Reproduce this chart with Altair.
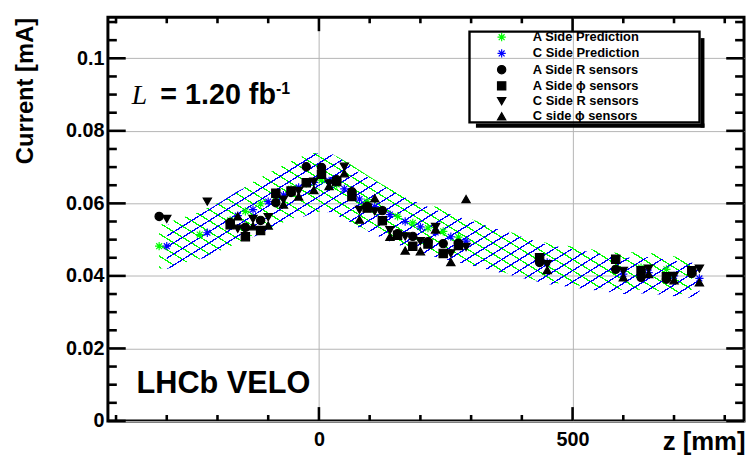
import math
import altair as alt
import pandas as pd

# ---------------- data ----------------
z_A = [-315, -235, -175, -145, -115, -85, -55, -25, 5, 35, 65, 95, 125, 155, 185, 215, 245, 275, 435, 585, 635, 685, 735]
pred_A = [0.0482, 0.0514, 0.0553, 0.0578, 0.0599, 0.0620, 0.0640, 0.0655, 0.0664, 0.0652, 0.0630, 0.0605, 0.0582,
          0.0564, 0.0546, 0.0532, 0.0523, 0.0507, 0.0445, 0.0420, 0.0423, 0.0418, 0.0405]
up_A = [0.0540, 0.0576, 0.0619, 0.0647, 0.0671, 0.0694, 0.0717, 0.0734, 0.0744, 0.0730, 0.0706, 0.0678, 0.0652,
        0.0632, 0.0612, 0.0596, 0.0586, 0.0568, 0.0494, 0.0464, 0.0466, 0.0458, 0.0444]
lo_A = [0.0419, 0.0447, 0.0481, 0.0503, 0.0521, 0.0539, 0.0557, 0.0570, 0.0578, 0.0567, 0.0548, 0.0526, 0.0506,
        0.0491, 0.0475, 0.0463, 0.0455, 0.0441, 0.0385, 0.0362, 0.0362, 0.0356, 0.0346]

z_C = [-300, -220, -160, -130, -100, -70, -40, -10, 20, 50, 80, 110, 140, 170, 200, 230, 260, 290, 450, 600, 650, 700, 750]
pred_C = [0.0482, 0.0519, 0.0566, 0.0583, 0.0605, 0.0623, 0.0644, 0.0658, 0.0662, 0.0640, 0.0612, 0.0591, 0.0569,
          0.0550, 0.0535, 0.0520, 0.0508, 0.0496, 0.0437, 0.0405, 0.0409, 0.0400, 0.0393]
up_C = [0.0540, 0.0581, 0.0634, 0.0653, 0.0678, 0.0698, 0.0721, 0.0737, 0.0741, 0.0717, 0.0685, 0.0662, 0.0637,
        0.0616, 0.0599, 0.0582, 0.0569, 0.0556, 0.0486, 0.0450, 0.0452, 0.0442, 0.0434]
lo_C = [0.0419, 0.0452, 0.0492, 0.0507, 0.0526, 0.0542, 0.0560, 0.0572, 0.0576, 0.0557, 0.0532, 0.0514, 0.0495,
        0.0479, 0.0465, 0.0452, 0.0442, 0.0432, 0.0378, 0.0350, 0.0352, 0.0344, 0.0338]

z_AR = [-315, -175, -145, -115, -85, -55, -25, 5, 35, 65, 95, 125, 155, 185, 215, 245, 275, 435, 585, 635, 685, 735]
cur_AR = [0.0564, 0.0547, 0.0534, 0.0553, 0.0602, 0.0630, 0.0701, 0.0699, 0.0665, 0.0632, 0.0592, 0.0580, 0.0516,
          0.0509, 0.0494, 0.0489, 0.0490, 0.0437, 0.0418, 0.0396, 0.0391, 0.0407]

z_AP = [-175, -145, -115, -85, -55, -25, 5, 35, 65, 95, 125, 155, 185, 215, 245, 275, 435, 585, 635, 685, 735]
cur_AP = [0.0541, 0.0508, 0.0525, 0.0628, 0.0634, 0.0657, 0.0680, 0.0660, 0.0619, 0.0587, 0.0552, 0.0512, 0.0482,
          0.0488, 0.0462, 0.0484, 0.0450, 0.0446, 0.0414, 0.0398, 0.0414]

z_CR = [-300, -220, -160, -130, -100, -70, -40, -10, 20, 50, 80, 110, 140, 170, 200, 230, 260, 290, 450, 600, 650, 700, 750]
cur_CR = [0.0557, 0.0605, 0.0530, 0.0557, 0.0562, 0.0610, 0.0634, 0.0660, 0.0655, 0.0701, 0.0582, 0.0578, 0.0526,
          0.0509, 0.0496, 0.0535, 0.0462, 0.0480, 0.0432, 0.0414, 0.0420, 0.0400, 0.0420]

z_CP = [-160, -130, -100, -70, -40, -10, 20, 50, 80, 110, 140, 170, 200, 230, 260, 290, 450, 600, 650, 700, 750]
cur_CP = [0.0564, 0.0537, 0.0539, 0.0597, 0.0619, 0.0637, 0.0648, 0.0683, 0.0555, 0.0614, 0.0508, 0.0470, 0.0468,
          0.0528, 0.0438, 0.0612, 0.0416, 0.0396, 0.0405, 0.0388, 0.0382]

series_names = ["A Side Prediction", "C Side Prediction", "A Side R sensors",
                "A Side \u03d5 sensors", "C Side R sensors", "C side \u03d5 sensors"]

xtick_major = [0, 500]
xtick_minor = [-400, -300, -200, -100, 100, 200, 300, 400, 600, 700, 800]
ytick_major = [0, 0.02, 0.04, 0.06, 0.08, 0.1]
ytick_minor = [0.005, 0.01, 0.015, 0.025, 0.03, 0.035, 0.045, 0.05, 0.055, 0.065, 0.07, 0.075,
               0.085, 0.09, 0.095, 0.105, 0.11]

# ---------------- layout / style ----------------
W, H = 643, 408
XDOM = [-416, 838]
YDOM = [0, 0.1113]
FONT = "Liberation Sans"
GREEN = "#00ff00"
BLUE = "#0000ff"
STAR = "M0,-1L0,1M-1,0L1,0M-0.71,-0.71L0.71,0.71M-0.71,0.71L0.71,-0.71"

xs = alt.Scale(domain=XDOM, nice=False, zero=False)
ys = alt.Scale(domain=YDOM, nice=False, zero=False)


def px(z):
    return (z - XDOM[0]) / (XDOM[1] - XDOM[0]) * W


def py(v):
    return H - v / YDOM[1] * H


def hatch(color, direction, zs, lo, up, angle=32, spacing=9.5, lw=1.3):
    bw = px(max(zs)) - px(min(zs))
    bh = py(min(lo)) - py(max(up))
    s = math.tan(math.radians(angle))
    gx = s * bw / bh
    grad = math.hypot(gx / bw, 1 / bh) / (gx * gx + 1)
    per = 1 / grad
    w = lw / per
    clear = "rgba(255,255,255,0)"
    stops = []
    k = 0
    while True:
        a = (k + 0.5) * spacing / per
        if a + w >= 1:
            break
        stops += [alt.GradientStop(offset=a, color=clear), alt.GradientStop(offset=a, color=color),
                  alt.GradientStop(offset=a + w, color=color), alt.GradientStop(offset=a + w, color=clear)]
        k += 1
    if direction == "/":
        x1, y1, x2, y2 = 0, 0, gx, 1
    else:
        x1, y1, x2, y2 = 0, 1, gx, 0
    return alt.LinearGradient(gradient="linear", stops=stops, x1=x1, y1=y1, x2=x2, y2=y2)


band_A = pd.DataFrame({"z": z_A, "lo": lo_A, "up": up_A})
band_C = pd.DataFrame({"z": z_C, "lo": lo_C, "up": up_C})

rows = []
for name, zz, vv in [(series_names[0], z_A, pred_A), (series_names[1], z_C, pred_C),
                     (series_names[2], z_AR, cur_AR), (series_names[3], z_AP, cur_AP),
                     (series_names[4], z_CR, cur_CR), (series_names[5], z_CP, cur_CP)]:
    for z, v in zip(zz, vv):
        rows.append({"series": name, "z": z, "I": v})
pts_df = pd.DataFrame(rows)

xaxis = alt.Axis(values=xtick_major, grid=True, gridColor="#b4b4b4", gridWidth=1, ticks=False, domain=False,
                 labelFont=FONT, labelFontSize=20, labelFontWeight="bold", labelColor="black", labelPadding=9,
                 labelFlush=False, format="d",
                 title="z [mm]", titleFont=FONT, titleFontSize=26, titleFontWeight="bold", titleColor="black",
                 titleX=W + 1, titleY=29, titleAlign="right", titleBaseline="alphabetic")
yaxis = alt.Axis(values=ytick_major, grid=True, gridColor="#b4b4b4", gridWidth=1, ticks=False, domain=False,
                 labelFont=FONT, labelFontSize=20, labelFontWeight="bold", labelColor="black", labelPadding=4,
                 format="~f",
                 title="Current [mA]", titleFont=FONT, titleFontSize=24, titleFontWeight="bold", titleColor="black",
                 titleAngle=270, titleX=-76, titleY=0, titleAlign="right", titleBaseline="alphabetic")

legend = alt.Legend(title=None, orient="none", legendX=391.5, legendY=13.6, padding=0,
                    labelFont=FONT, labelFontSize=13, labelFontWeight="bold", labelColor="black",
                    labelOffset=25, symbolSize=70, symbolStrokeWidth=1.2, rowPadding=1.4)

X = lambda f: alt.X(f, scale=xs, axis=xaxis, title="z [mm]")
Y = lambda f: alt.Y(f, scale=ys, axis=yaxis, title="Current [mA]")

band_a = alt.Chart(band_A).mark_area(color=hatch(GREEN, "\\", z_A, lo_A, up_A)).encode(
    x=X("z:Q"), y=Y("lo:Q"), y2="up:Q")
band_c = alt.Chart(band_C).mark_area(color=hatch(BLUE, "/", z_C, lo_C, up_C)).encode(
    x=X("z:Q"), y=Y("lo:Q"), y2="up:Q")

points = alt.Chart(pts_df).mark_point(filled=True, opacity=1, strokeWidth=1.2, size=70).encode(
    x=X("z:Q"),
    y=Y("I:Q"),
    fill=alt.Fill("series:N", scale=alt.Scale(domain=series_names,
                                              range=[GREEN, BLUE, "black", "black", "black", "black"]),
                  legend=legend),
    stroke=alt.Stroke("series:N", scale=alt.Scale(domain=series_names,
                                                  range=[GREEN, BLUE, "black", "black", "black", "black"]),
                      legend=legend),
    shape=alt.Shape("series:N", scale=alt.Scale(domain=series_names,
                                                range=[STAR, STAR, "circle", "square", "triangle-down",
                                                       "triangle-up"]),
                    legend=legend),
)


def yticks(vals, x0, x1):
    return alt.Chart(pd.DataFrame({"I": vals})).mark_rule(color="black", strokeWidth=2.6).encode(
        y=Y("I:Q"), x=alt.value(x0), x2=alt.value(x1))


def xticks(vals, y0, y1):
    return alt.Chart(pd.DataFrame({"z": vals})).mark_rule(color="black", strokeWidth=2.6).encode(
        x=X("z:Q"), y=alt.value(y0), y2=alt.value(y1))


ticks = [yticks(ytick_major, 0, 18), yticks(ytick_minor, 0, 9),
         yticks(ytick_major, W - 18, W), yticks(ytick_minor, W - 9, W),
         xticks(xtick_major, H - 14, H), xticks(xtick_minor, H - 6, H),
         xticks(xtick_major, 0, 14), xticks(xtick_minor, 0, 6)]

# legend frame with shadow
box = alt.Chart(pd.DataFrame({"a": [0]})).mark_rect(fill="transparent", stroke="black", strokeWidth=2.4).encode(
    x=alt.value(365.5), x2=alt.value(598), y=alt.value(14.5), y2=alt.value(106.2))
shadow_r = alt.Chart(pd.DataFrame({"a": [0]})).mark_rect(color="black").encode(
    x=alt.value(599), x2=alt.value(603), y=alt.value(21), y2=alt.value(111.5))
shadow_b = alt.Chart(pd.DataFrame({"a": [0]})).mark_rect(color="black").encode(
    x=alt.value(372), x2=alt.value(603), y=alt.value(107.3), y2=alt.value(111.5))


def label(text, x, y, size, font=FONT, weight="bold", style="normal"):
    return alt.Chart(pd.DataFrame({"a": [0]})).mark_text(
        text=text, font=font, fontSize=size, fontWeight=weight, fontStyle=style, color="black",
        align="left", baseline="alphabetic").encode(x=alt.value(x), y=alt.value(y))


texts = [label("L", 24, 88, 28, font="Liberation Serif", weight="normal", style="italic"),
         label("= 1.20 fb", 53, 88, 29),
         label("-1", 170, 77, 16),
         label("LHCb VELO", 29, 380, 31)]

chart = alt.layer(band_a, band_c, *ticks, points, box, shadow_r, shadow_b, *texts).properties(
    width=W, height=H,
    autosize=alt.AutoSizeParams(type="none"),
    padding={"left": 101, "top": 7, "right": 2, "bottom": 34},
    background="white",
).configure_view(stroke="black", strokeWidth=3)

chart.save("out.html", embed_options={"renderer": "svg", "actions": False})
